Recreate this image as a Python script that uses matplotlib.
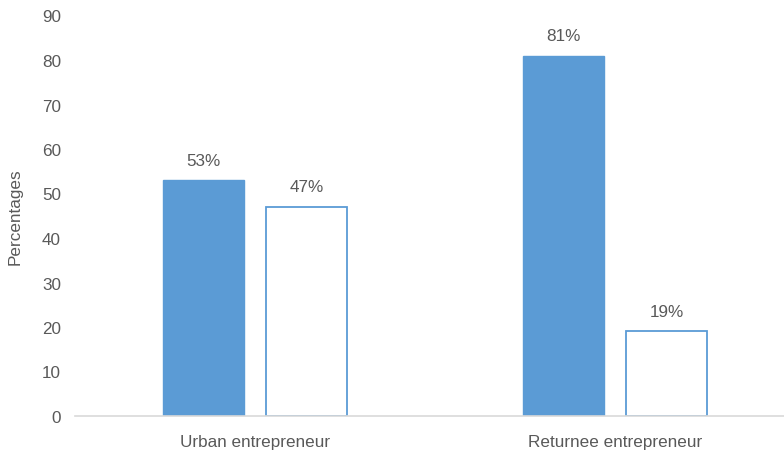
import numpy as np
import matplotlib.pyplot as plt

categories = ["Urban entrepreneur", "Returnee entrepreneur"]
filled_vals = [53, 81]
hollow_vals = [47, 19]
yticks = [0, 10, 20, 30, 40, 50, 60, 70, 80, 90]

blue = "#5B9BD5"
text_col = "#595959"
fs = 12.3

plt.rcParams["font.family"] = ["Liberation Sans", "DejaVu Sans"]

fig = plt.figure(figsize=(7.84, 4.52), dpi=100)
ax = fig.add_axes([75 / 784, 35 / 452, 709 / 784, 400.5 / 452])

x = np.arange(len(categories))
w = 0.225
off = 0.143

b1 = ax.bar(x - off, filled_vals, w, color=blue, edgecolor=blue)
b2 = ax.bar(x + off, hollow_vals, w, color="white", edgecolor=blue, linewidth=1.3)

for bars in (b1, b2):
    for rect in bars:
        h = rect.get_height()
        ax.annotate(f"{h:.0f}%", (rect.get_x() + rect.get_width() / 2, h),
                    xytext=(0, 9), textcoords="offset points",
                    ha="center", va="bottom", fontsize=fs, color=text_col)

ax.set_xlim(-0.5, 1.469)
ax.set_ylim(0, 90)
ax.set_yticks(yticks)
ax.set_xticks(x)
ax.set_xticklabels(categories)
ax.tick_params(axis="both", length=0, labelsize=fs, labelcolor=text_col)
ax.tick_params(axis="y", pad=10)
ax.tick_params(axis="x", pad=13)

for s in ("top", "right", "left"):
    ax.spines[s].set_visible(False)
ax.spines["bottom"].set_color("#d9d9d9")
ax.spines["bottom"].set_linewidth(1.2)

ax.set_ylabel("Percentages", fontsize=fs, color=text_col)
ax.yaxis.set_label_coords(-(75 - 23) / 709, 0.5)

fig.savefig("out.png", dpi=100)
